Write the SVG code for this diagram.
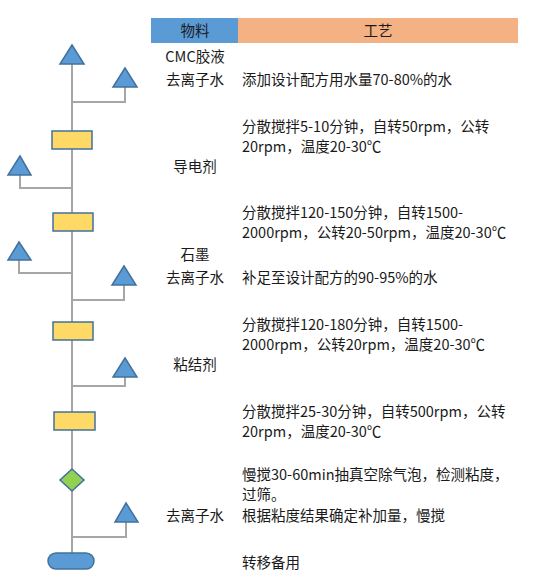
<svg xmlns="http://www.w3.org/2000/svg" width="537" height="585" viewBox="0 0 537 585">
<defs>
<style>
.t{font-family:"Noto Sans CJK SC","Microsoft YaHei",sans-serif;font-size:14.5px;fill:#1a1a1a}
.c{text-anchor:middle}
.ln{stroke:#A6A6A6;stroke-width:2;fill:none}
.tri{fill:#5B9BD5;stroke:#41719C;stroke-width:1.5;stroke-linejoin:miter}
.box{fill:#FFD966;stroke:#41719C;stroke-width:1.5}
.dia{fill:#92D050;stroke:#41719C;stroke-width:1.5}
.term{fill:#5B9BD5;stroke:#41719C;stroke-width:1.5}
</style>
</defs>
<rect width="537" height="585" fill="#fff"/>
<g id="header">
<rect x="151" y="18" width="87" height="25" fill="#5B9BD5"/>
<rect x="238" y="18" width="280" height="25" fill="#F4B183"/>
<text class="t c" x="195" y="36">物料</text>
<text class="t c" x="378" y="36">工艺</text>
</g>
<g id="connectors">
<line class="ln" x1="72" y1="64" x2="72" y2="553"/>
<polyline class="ln" points="125,87 125,102 72,102"/>
<polyline class="ln" points="20,175 20,188 72,188"/>
<polyline class="ln" points="19,260 19,273 72,273"/>
<polyline class="ln" points="124,285 124,300 72,300"/>
<polyline class="ln" points="125,377 125,386 72,386"/>
<polyline class="ln" points="126,522 126,537 72,537"/>
</g>
<g id="tri1"><polygon class="tri" points="72,45 84,64 60,64"/></g>
<g id="tri2"><polygon class="tri" points="125,68 137,87 113,87"/></g>
<g id="box1"><rect class="box" x="52" y="131" width="40" height="18"/></g>
<g id="tri3"><polygon class="tri" points="20,156 31,175 8,175"/></g>
<g id="box2"><rect class="box" x="53" y="213" width="40" height="18"/></g>
<g id="tri4"><polygon class="tri" points="19,242 31,260 8,260"/></g>
<g id="tri5"><polygon class="tri" points="124,266 136,285 112,285"/></g>
<g id="box3"><rect class="box" x="53" y="322" width="40" height="18"/></g>
<g id="tri6"><polygon class="tri" points="125,358 137,377 113,377"/></g>
<g id="box4"><rect class="box" x="54" y="412" width="41" height="18"/></g>
<g id="diamond"><polygon class="dia" points="72,469 84,480 72,491 60,480"/></g>
<g id="tri7"><polygon class="tri" points="126,503 138,522 115,522"/></g>
<g id="terminator"><rect class="term" x="48" y="553" width="46" height="16" rx="8" ry="8"/></g>
<g id="materials">
<text class="t c" x="195" y="62">CMC胶液</text>
<text class="t c" x="195" y="85">去离子水</text>
<text class="t c" x="195" y="172">导电剂</text>
<text class="t c" x="195" y="260">石墨</text>
<text class="t c" x="195" y="283">去离子水</text>
<text class="t c" x="195" y="370">粘结剂</text>
<text class="t c" x="195" y="521">去离子水</text>
</g>
<g id="process">
<text class="t" x="242" y="85">添加设计配方用水量70-80%的水</text>
<text class="t" x="242" y="132">分散搅拌5-10分钟，自转50rpm，公转</text>
<text class="t" x="242" y="152">20rpm，温度20-30℃</text>
<text class="t" x="242" y="218">分散搅拌120-150分钟，自转1500-</text>
<text class="t" x="242" y="238">2000rpm，公转20-50rpm，温度20-30℃</text>
<text class="t" x="242" y="283">补足至设计配方的90-95%的水</text>
<text class="t" x="242" y="330">分散搅拌120-180分钟，自转1500-</text>
<text class="t" x="242" y="350">2000rpm，公转20rpm，温度20-30℃</text>
<text class="t" x="242" y="417">分散搅拌25-30分钟，自转500rpm，公转</text>
<text class="t" x="242" y="437">20rpm，温度20-30℃</text>
<text class="t" x="242" y="480">慢搅30-60min抽真空除气泡，检测粘度，</text>
<text class="t" x="242" y="500">过筛。</text>
<text class="t" x="242" y="521">根据粘度结果确定补加量，慢搅</text>
<text class="t" x="242" y="568">转移备用</text>
</g>
</svg>
